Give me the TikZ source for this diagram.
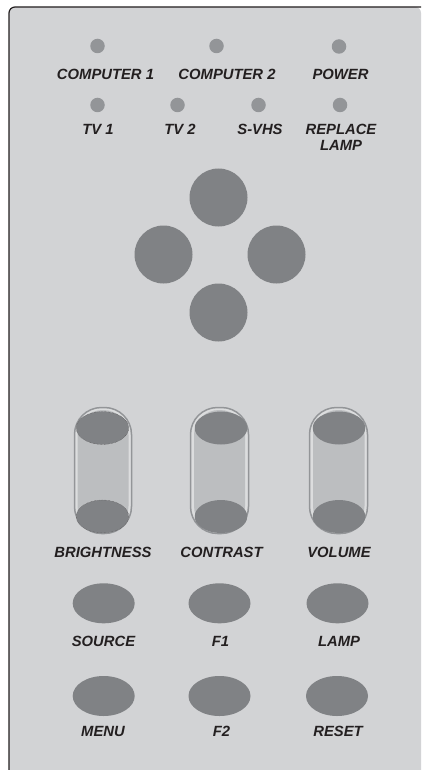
\documentclass[tikz,border=0pt]{standalone}
\usepackage{fontspec}
\setmainfont{Liberation Sans}
\usetikzlibrary{shapes.geometric}
\definecolor{panelbg}{HTML}{D2D3D5}
\definecolor{btn}{HTML}{808285}
\definecolor{led}{HTML}{939598}
\definecolor{slot}{HTML}{BCBEC0}
\definecolor{rim}{HTML}{939598}
\definecolor{glow}{HTML}{DCDDDE}
\definecolor{ink}{HTML}{231F20}
\tikzset{x=1pt,y=-1pt,
 lbl/.style={font=\bfseries\itshape\fontsize{14.8}{16.5}\selectfont,text=ink,inner sep=0pt,align=center},
 ledlamp/.style={circle,fill=led,draw=none,minimum size=14.5pt,inner sep=0pt},
 padbtn/.style={circle,fill=btn,draw=none,minimum size=58pt,inner sep=0pt},
 ovalbtn/.style={ellipse,fill=btn,draw=none,minimum width=62pt,minimum height=40pt,inner sep=0pt},
 capbtn/.style={ellipse,fill=btn,draw=none,minimum width=52.5pt,minimum height=33pt,inner sep=0pt},
 slotbox/.style={rounded corners=27pt,fill=glow,draw=rim,line width=1.5pt},
 slotcore/.style={rounded corners=25pt,fill=slot,draw=none}
}
\begin{document}
\begin{tikzpicture}
\useasboundingbox (0,0) rectangle (421,770);
\fill[white] (0,0) rectangle (421,770);
\fill[panelbg] (9,770) [rounded corners=6pt] -- (9,7) -- (421,7) [sharp corners] -- (421,770) -- cycle;
\draw[ink,line width=1.2pt,rounded corners=6pt] (9,770) -- (9,7) -- (421,7);
% LEDs
\node[ledlamp] (l1) at (97.5,46) {};
\node[ledlamp] (l2) at (216.5,46) {};
\node[ledlamp] (l3) at (339,46.5) {};
\node[ledlamp] (l4) at (97.5,105) {};
\node[ledlamp] (l5) at (177.5,105) {};
\node[ledlamp] (l6) at (258.5,105) {};
\node[ledlamp] (l7) at (340,105) {};
\node[lbl] (t1) at (105.5,74.7) {COMPUTER 1};
\node[lbl] (t2) at (227,74.7) {COMPUTER 2};
\node[lbl] (t3) at (340.5,74.7) {POWER};
\node[lbl] (t4) at (98,129) {TV 1};
\node[lbl] (t5) at (180,129) {TV 2};
\node[lbl] (t6) at (260,129) {S-VHS};
\node[lbl] (t7) at (341,137.5) {REPLACE\\LAMP};
% direction pad
\node[padbtn] (up) at (218.5,197.5) {};
\node[padbtn] (left) at (163.5,254.5) {};
\node[padbtn] (right) at (276.5,254.5) {};
\node[padbtn] (down) at (218.5,312.5) {};
% sliders
\draw[slotbox] (74.5,407.5) rectangle (131.5,533.5);
\fill[slotcore] (77.5,410) rectangle (128.5,531);
\draw[slotbox] (190.5,407.5) rectangle (248.5,533.5);
\fill[slotcore] (194,410) rectangle (245,531);
\draw[slotbox] (309.5,407.5) rectangle (367.5,533.5);
\fill[slotcore] (313,410) rectangle (364.5,531);
\node[capbtn,draw=ink!80,densely dotted,line width=.4pt] (b1) at (102.5,428) {};
\node[capbtn,draw=ink!80,densely dotted,line width=.4pt] (b2) at (102.5,516.5) {};
\node[capbtn] (c1) at (221,428) {};
\node[capbtn] (c2) at (221,516.5) {};
\node[capbtn] (v1) at (339,428) {};
\node[capbtn] (v2) at (339,516.5) {};
\node[lbl] (t8) at (103,552.7) {BRIGHTNESS};
\node[lbl] (t9) at (221.5,552.7) {CONTRAST};
\node[lbl] (t10) at (339,552.7) {VOLUME};
% oval buttons
\node[ovalbtn] (o1) at (103.7,603.3) {};
\node[ovalbtn] (o2) at (219.5,603.3) {};
\node[ovalbtn] (o3) at (337.5,603.3) {};
\node[ovalbtn] (o4) at (103.7,696) {};
\node[ovalbtn] (o5) at (219.5,696) {};
\node[ovalbtn] (o6) at (337,696) {};
\node[lbl] (t11) at (103.5,641) {SOURCE};
\node[lbl] (t12) at (220.5,641) {F1};
\node[lbl] (t13) at (339,641) {LAMP};
\node[lbl] (t14) at (103,731) {MENU};
\node[lbl] (t15) at (221.5,731) {F2};
\node[lbl] (t16) at (338,731) {RESET};
\end{tikzpicture}
\end{document}
